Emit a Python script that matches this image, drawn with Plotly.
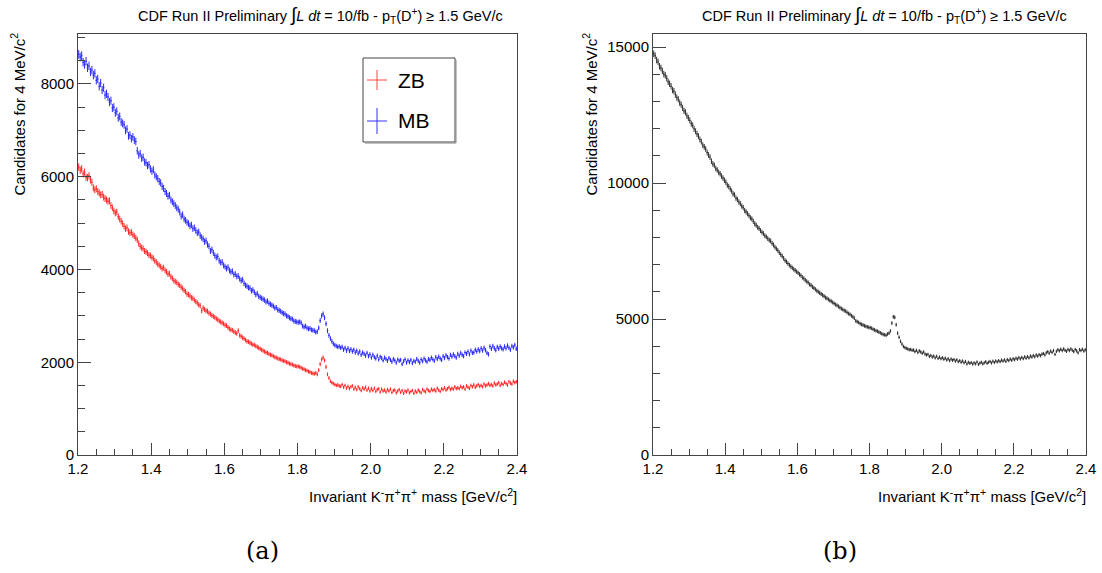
import numpy as np
import plotly.graph_objects as go

# ---------------- data (4 MeV bins, 1.2 - 2.4 GeV/c^2) ----------------
mass_min = 1.2
mass_max = 2.4
bin_width = 0.004
n_bins = 300
bin_centers = [round(mass_min + bin_width * (i + 0.5), 4) for i in range(n_bins)]

mb_counts = [
    8640, 8580, 8610, 8470, 8420, 8490, 8350, 8390, 8260, 8300,
    8190, 8230, 8080, 8110, 7950, 8020, 7870, 7920, 7760, 7790,
    7720, 7610, 7640, 7480, 7500, 7380, 7410, 7270, 7300, 7180,
    7150, 7120, 7000, 7030, 6880, 6900, 6820, 6860, 6790, 6760,
    6560, 6470, 6500, 6400, 6420, 6320, 6300, 6240, 6260, 6170,
    6120, 6150, 6040, 6000, 5960, 5900, 5870, 5790, 5750, 5680,
    5640, 5580, 5600, 5500, 5460, 5420, 5380, 5330, 5300, 5240,
    5150, 5180, 5090, 5060, 5020, 4990, 4940, 4960, 4880, 4900,
    4840, 4790, 4810, 4730, 4690, 4660, 4600, 4620, 4540, 4500,
    4400, 4430, 4360, 4300, 4260, 4280, 4190, 4150, 4160, 4090,
    4060, 4020, 4050, 3980, 3950, 3960, 3890, 3900, 3850, 3860,
    3800, 3760, 3780, 3700, 3660, 3640, 3610, 3600, 3540, 3560,
    3510, 3460, 3480, 3420, 3400, 3380, 3360, 3340, 3300, 3320,
    3270, 3250, 3230, 3210, 3170, 3180, 3130, 3120, 3100, 3070,
    3050, 3040, 3000, 2990, 2960, 2940, 2930, 2890, 2880, 2870,
    2860, 2870, 2850, 2780, 2760, 2780, 2740, 2720, 2730, 2700,
    2690, 2680, 2650, 2660, 2740, 2900, 3000, 3040, 2960, 2830,
    2680, 2580, 2510, 2450, 2400, 2370, 2350, 2330, 2340, 2310,
    2330, 2270, 2310, 2250, 2300, 2240, 2280, 2230, 2270, 2210,
    2250, 2190, 2230, 2160, 2210, 2180, 2140, 2200, 2130, 2170,
    2100, 2160, 2110, 2080, 2140, 2060, 2120, 2090, 2040, 2100,
    2070, 2030, 2090, 2050, 2010, 2070, 2040, 1990, 2060, 2030,
    2050, 1960, 2020, 2060, 1990, 2040, 2000, 2050, 1980, 2030,
    2010, 2070, 2030, 1990, 2060, 2020, 2080, 2040, 2010, 2070,
    2050, 2100, 2060, 2030, 2110, 2070, 2120, 2080, 2050, 2130,
    2090, 2150, 2110, 2080, 2160, 2120, 2170, 2130, 2100, 2180,
    2140, 2200, 2160, 2130, 2210, 2180, 2230, 2170, 2250, 2200,
    2210, 2270, 2230, 2280, 2240, 2300, 2250, 2310, 2260, 2200,
    2170, 2340, 2290, 2350, 2300, 2260, 2330, 2290, 2340, 2300,
    2280, 2340, 2300, 2360, 2310, 2270, 2350, 2320, 2370, 2290,
]

zb_counts = [
    6210, 6140, 6170, 6060, 6100, 5990, 5980, 6020, 5930, 5880,
    5760, 5720, 5740, 5680, 5650, 5610, 5620, 5560, 5530, 5500,
    5470, 5480, 5380, 5330, 5260, 5220, 5240, 5140, 5090, 5040,
    4990, 4930, 4880, 4900, 4820, 4790, 4800, 4750, 4720, 4680,
    4640, 4560, 4500, 4470, 4450, 4400, 4380, 4350, 4310, 4300,
    4260, 4240, 4190, 4160, 4120, 4090, 4060, 4020, 4040, 3980,
    3950, 3900, 3910, 3840, 3810, 3760, 3740, 3720, 3680, 3660,
    3620, 3590, 3550, 3520, 3470, 3460, 3430, 3390, 3380, 3340,
    3310, 3280, 3240, 3220, 3110, 3170, 3140, 3110, 3100, 3060,
    3040, 3010, 2990, 2970, 2940, 2920, 2890, 2870, 2850, 2830,
    2800, 2790, 2750, 2720, 2700, 2690, 2660, 2640, 2620, 2680,
    2580, 2560, 2530, 2510, 2480, 2450, 2440, 2420, 2400, 2380,
    2370, 2350, 2330, 2310, 2290, 2270, 2250, 2230, 2210, 2200,
    2180, 2160, 2150, 2130, 2110, 2100, 2080, 2070, 2060, 2040,
    2030, 2020, 2000, 1990, 1970, 1960, 1950, 1930, 1920, 1910,
    1910, 1900, 1880, 1860, 1850, 1830, 1820, 1800, 1790, 1770,
    1760, 1750, 1770, 1740, 1830, 1960, 2060, 2100, 2040, 1900,
    1740, 1660, 1590, 1560, 1540, 1520, 1500, 1510, 1490, 1480,
    1520, 1460, 1500, 1440, 1480, 1430, 1470, 1490, 1420, 1460,
    1410, 1470, 1430, 1390, 1450, 1420, 1460, 1400, 1440, 1380,
    1430, 1390, 1440, 1370, 1410, 1430, 1360, 1420, 1380, 1400,
    1360, 1410, 1380, 1420, 1350, 1390, 1400, 1340, 1380, 1410,
    1350, 1390, 1330, 1380, 1360, 1400, 1340, 1370, 1390, 1330,
    1380, 1350, 1400, 1370, 1340, 1410, 1380, 1360, 1420, 1390,
    1370, 1420, 1390, 1410, 1380, 1440, 1400, 1370, 1430, 1410,
    1450, 1400, 1430, 1460, 1410, 1440, 1420, 1470, 1430, 1450,
    1430, 1480, 1450, 1470, 1420, 1490, 1460, 1440, 1500, 1470,
    1510, 1460, 1490, 1520, 1480, 1500, 1470, 1530, 1490, 1510,
    1540, 1500, 1520, 1490, 1550, 1510, 1530, 1560, 1500, 1540,
    1520, 1570, 1540, 1510, 1580, 1550, 1530, 1590, 1560, 1580,
]

all_counts = [
    14750, 14680, 14520, 14450, 14290, 14230, 14120, 14000, 13960, 13850,
    13720, 13650, 13560, 13420, 13380, 13250, 13140, 13080, 12950, 12880,
    12760, 12650, 12600, 12470, 12390, 12300, 12180, 12120, 11990, 11900,
    11800, 11720, 11600, 11520, 11390, 11330, 11250, 11120, 11030, 10950,
    10800, 10700, 10650, 10530, 10480, 10390, 10340, 10250, 10180, 10100,
    10030, 9920, 9870, 9780, 9700, 9600, 9560, 9440, 9390, 9300,
    9240, 9150, 9100, 8990, 8940, 8870, 8800, 8720, 8680, 8590,
    8500, 8450, 8370, 8330, 8250, 8190, 8140, 8060, 8020, 7960,
    7900, 7870, 7780, 7720, 7640, 7580, 7520, 7440, 7370, 7310,
    7230, 7150, 7100, 7040, 6980, 6930, 6880, 6830, 6790, 6740,
    6700, 6640, 6600, 6530, 6490, 6430, 6380, 6340, 6270, 6240,
    6180, 6140, 6090, 6040, 6000, 5960, 5920, 5880, 5840, 5790,
    5760, 5720, 5680, 5650, 5610, 5570, 5530, 5500, 5460, 5420,
    5380, 5350, 5310, 5290, 5240, 5200, 5170, 5120, 5080, 5030,
    4930, 4900, 4870, 4830, 4800, 4780, 4750, 4730, 4710, 4690,
    4680, 4660, 4620, 4600, 4570, 4550, 4520, 4490, 4460, 4430,
    4420, 4400, 4450, 4480, 4560, 4850, 5080, 5060, 4790, 4480,
    4330, 4180, 4080, 3990, 3950, 3920, 3900, 3870, 3880, 3850,
    3860, 3800, 3850, 3770, 3830, 3790, 3740, 3790, 3710, 3680,
    3700, 3620, 3660, 3600, 3640, 3570, 3630, 3550, 3600, 3540,
    3580, 3520, 3560, 3490, 3540, 3470, 3530, 3480, 3510, 3450,
    3500, 3430, 3470, 3410, 3460, 3390, 3440, 3350, 3410, 3370,
    3400, 3340, 3390, 3350, 3420, 3330, 3380, 3410, 3350, 3390,
    3430, 3370, 3410, 3440, 3380, 3450, 3400, 3460, 3420, 3470,
    3430, 3490, 3450, 3500, 3440, 3510, 3470, 3530, 3480, 3540,
    3500, 3560, 3520, 3580, 3530, 3590, 3540, 3610, 3560, 3620,
    3570, 3640, 3600, 3660, 3610, 3680, 3630, 3690, 3650, 3710,
    3730, 3680, 3760, 3800, 3740, 3820, 3770, 3840, 3700, 3810,
    3870, 3830, 3890, 3840, 3900, 3850, 3810, 3880, 3840, 3900,
    3850, 3800, 3880, 3830, 3760, 3870, 3840, 3890, 3820, 3870,
]

x_tick_vals = [1.2, 1.4, 1.6, 1.8, 2.0, 2.2, 2.4]
x_tick_text = ["1.2", "1.4", "1.6", "1.8", "2.0", "2.2", "2.4"]
left_y_ticks = [0, 2000, 4000, 6000, 8000]
right_y_ticks = [0, 5000, 10000, 15000]

# ---------------- figure ----------------
W, H = 1102, 573
FONT = "Liberation Sans"
AXC = "#444444"

def px(xp):
    return xp / W

def py(yp):
    return 1 - yp / H

fig = go.Figure()

def hist_trace(counts, color, xaxis, yaxis, name):
    return go.Scatter(
        x=bin_centers,
        y=counts,
        mode="markers",
        name=name,
        marker=dict(size=1, color=color),
        error_x=dict(type="constant", value=bin_width / 2, width=0, thickness=1, color=color),
        error_y=dict(type="data", array=list(np.sqrt(counts)), width=0, thickness=1, color=color),
        xaxis=xaxis,
        yaxis=yaxis,
        showlegend=False,
        hoverinfo="x+y",
    )

fig.add_trace(hist_trace(mb_counts, "#2a2aff", "x", "y", "MB"))
fig.add_trace(hist_trace(zb_counts, "#ff2a2a", "x", "y", "ZB"))
fig.add_trace(hist_trace(all_counts, "#333333", "x2", "y2", "ZB+MB"))

left_dom = [px(78), px(517)]
right_dom = [px(653), px(1086)]
y_dom = [py(455), py(34)]

axis_common = dict(
    showgrid=False,
    zeroline=False,
    showline=True,
    linecolor=AXC,
    linewidth=1,
    mirror=True,
    ticks="inside",
    tickcolor=AXC,
    tickwidth=1,
    automargin=False,
    tickfont=dict(family=FONT, size=15, color="#000000"),
)

fig.update_layout(
    width=W,
    height=H,
    margin=dict(l=0, r=0, t=0, b=0, pad=0, autoexpand=False),
    paper_bgcolor="white",
    plot_bgcolor="white",
    xaxis=dict(
        domain=left_dom, range=[mass_min, mass_max], anchor="y",
        tickvals=x_tick_vals, ticktext=x_tick_text, ticklen=12,
        minor=dict(ticks="inside", dtick=0.05, ticklen=6, tickcolor=AXC, showgrid=False),
        **axis_common,
    ),
    yaxis=dict(
        domain=y_dom, range=[0, 9078], anchor="x",
        tickvals=left_y_ticks, ticktext=[str(v) for v in left_y_ticks], ticklen=13,
        minor=dict(ticks="inside", dtick=500, ticklen=7, tickcolor=AXC, showgrid=False),
        **axis_common,
    ),
    xaxis2=dict(
        domain=right_dom, range=[mass_min, mass_max], anchor="y2",
        tickvals=x_tick_vals, ticktext=x_tick_text, ticklen=12,
        minor=dict(ticks="inside", dtick=0.05, ticklen=6, tickcolor=AXC, showgrid=False),
        **axis_common,
    ),
    yaxis2=dict(
        domain=y_dom, range=[0, 15478], anchor="x2",
        tickvals=right_y_ticks, ticktext=[str(v) for v in right_y_ticks], ticklen=13,
        minor=dict(ticks="inside", dtick=1000, ticklen=7, tickcolor=AXC, showgrid=False),
        **axis_common,
    ),
)

title_text = ("CDF Run II Preliminary <span style='font-size:19px'>∫</span><i>L dt</i> = 10/fb - "
              "p<sub>T</sub>(D<sup>+</sup>) ≥ 1.5 GeV/c")
ytitle_text = "Candidates for 4 MeV/c<sup>2</sup>"
xtitle_text = "Invariant K<sup>-</sup>π<sup>+</sup>π<sup>+</sup> mass [GeV/c<sup>2</sup>]"

annotations = []
for cx, yx, right_edge, lab_x, lab in [(320, 18, 517, 262, "(a)"), (884, 590, 1086, 840, "(b)")]:
    annotations.append(dict(text=title_text, x=px(cx), y=py(15), xref="paper", yref="paper",
                            xanchor="center", yanchor="middle", showarrow=False,
                            font=dict(family=FONT, size=14.5, color="#000000")))
    annotations.append(dict(text=ytitle_text, x=px(yx), y=py(31), xref="paper", yref="paper",
                            xanchor="center", yanchor="top", textangle=-90, showarrow=False,
                            font=dict(family=FONT, size=15, color="#000000")))
    annotations.append(dict(text=xtitle_text, x=px(right_edge + 2), y=py(495), xref="paper", yref="paper",
                            xanchor="right", yanchor="middle", showarrow=False,
                            font=dict(family=FONT, size=15, color="#000000")))
    annotations.append(dict(text=lab, x=px(lab_x), y=py(551), xref="paper", yref="paper",
                            xanchor="center", yanchor="middle", showarrow=False,
                            font=dict(family="DejaVu Serif", size=24, color="#000000")))

# legend (drawn manually, ROOT style)
annotations.append(dict(text="ZB", x=px(396), y=py(81), xref="paper", yref="paper",
                        xanchor="left", yanchor="middle", showarrow=False,
                        font=dict(family=FONT, size=21, color="#000000")))
annotations.append(dict(text="MB", x=px(396), y=py(121), xref="paper", yref="paper",
                        xanchor="left", yanchor="middle", showarrow=False,
                        font=dict(family=FONT, size=21, color="#000000")))

shapes = [
    dict(type="rect", xref="paper", yref="paper", x0=px(363), x1=px(455), y0=py(142), y1=py(58),
         line=dict(color=AXC, width=1), fillcolor="white", layer="above"),
    dict(type="line", xref="paper", yref="paper", x0=px(456), x1=px(456), y0=py(143), y1=py(60),
         line=dict(color="#888888", width=1)),
    dict(type="line", xref="paper", yref="paper", x0=px(365), x1=px(456), y0=py(143), y1=py(143),
         line=dict(color="#888888", width=1)),
    dict(type="line", xref="paper", yref="paper", x0=px(367), x1=px(387), y0=py(80), y1=py(80),
         line=dict(color="#ff4444", width=1)),
    dict(type="line", xref="paper", yref="paper", x0=px(377), x1=px(377), y0=py(70), y1=py(90),
         line=dict(color="#ff4444", width=1)),
    dict(type="line", xref="paper", yref="paper", x0=px(367), x1=px(387), y0=py(121), y1=py(121),
         line=dict(color="#3333ff", width=1)),
    dict(type="line", xref="paper", yref="paper", x0=px(377), x1=px(377), y0=py(108), y1=py(134),
         line=dict(color="#3333ff", width=1)),
]

fig.update_layout(annotations=annotations, shapes=shapes)

fig.write_html("out.html")
